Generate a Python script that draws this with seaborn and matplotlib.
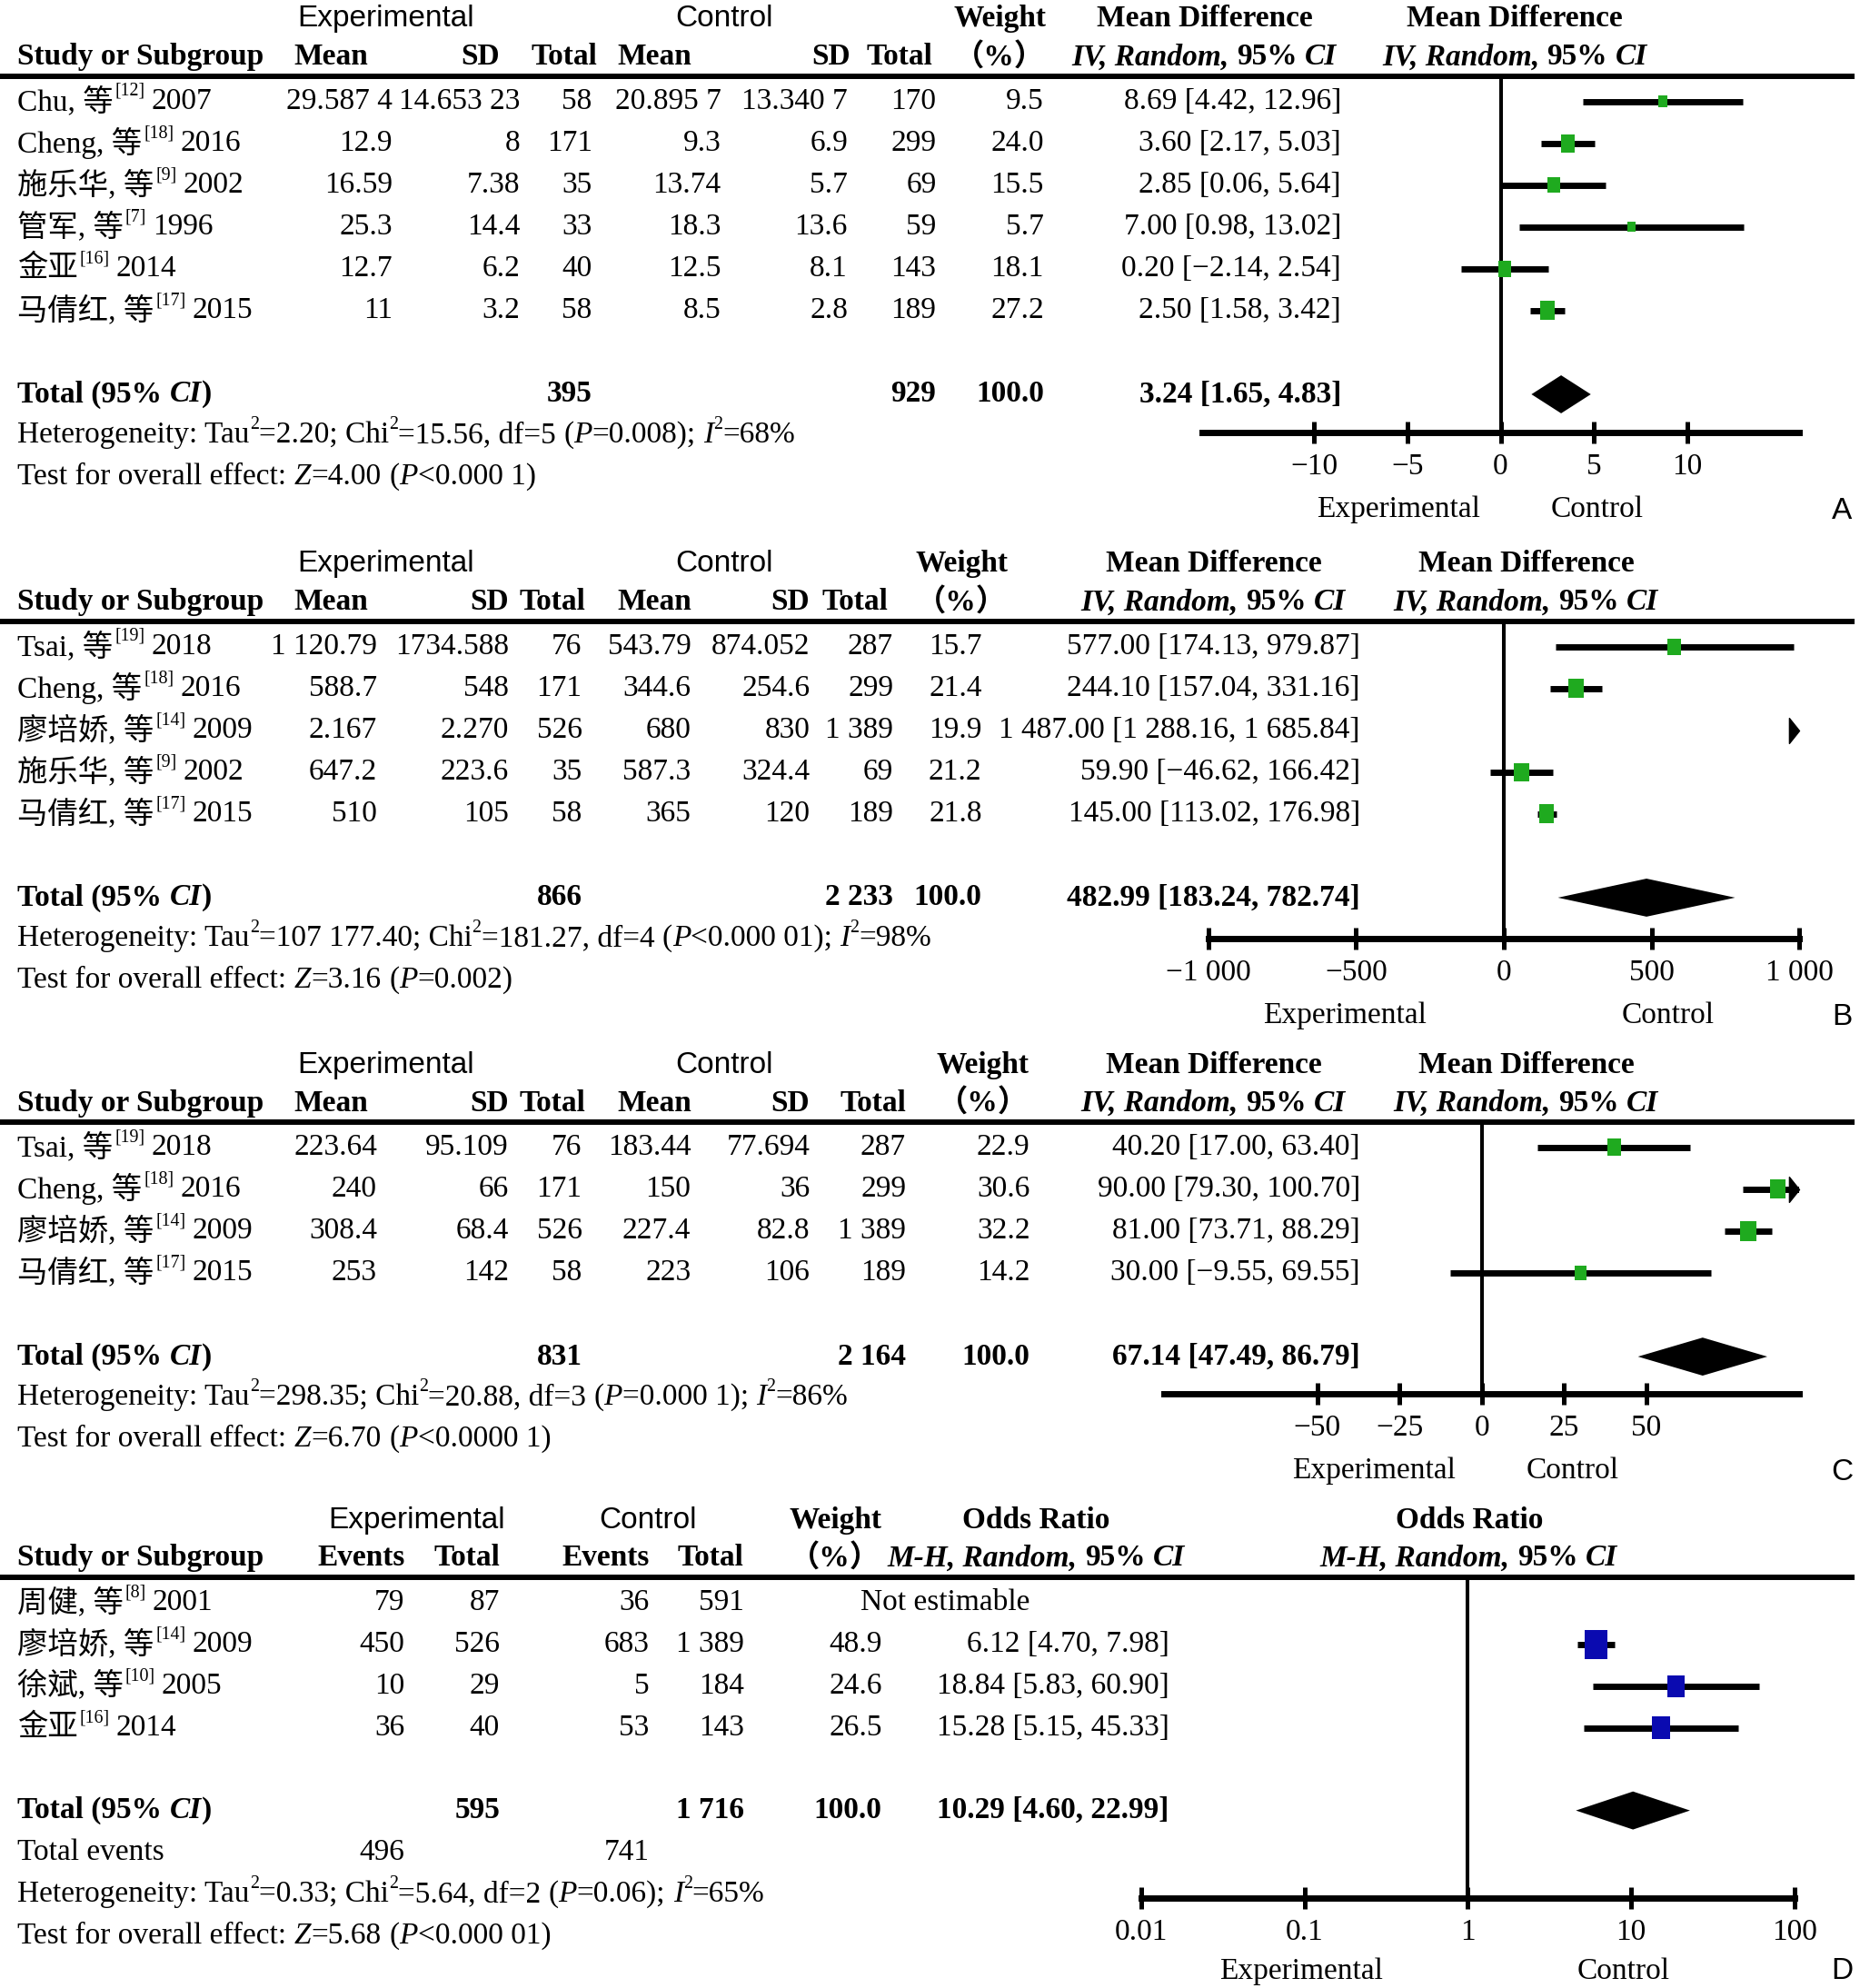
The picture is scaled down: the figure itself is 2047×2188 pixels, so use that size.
import numpy as np
import pandas as pd
import matplotlib
matplotlib.use("Agg")
import matplotlib.pyplot as plt
import seaborn as sns
from matplotlib.path import Path
from matplotlib.markers import MarkerStyle
from matplotlib.ticker import NullLocator

# ============================ DATA ============================
# ---- Panel A ----
a_study = ["Chu, 等", "Cheng, 等", "施乐华, 等", "管军, 等", "金亚", "马倩红, 等"]
a_ref = ["[12]", "[18]", "[9]", "[7]", "[16]", "[17]"]
a_year = ["2007", "2016", "2002", "1996", "2014", "2015"]
a_exp_mean = ["29.587 4", "12.9", "16.59", "25.3", "12.7", "11"]
a_exp_sd = ["14.653 23", "8", "7.38", "14.4", "6.2", "3.2"]
a_exp_n = ["58", "171", "35", "33", "40", "58"]
a_ctl_mean = ["20.895 7", "9.3", "13.74", "18.3", "12.5", "8.5"]
a_ctl_sd = ["13.340 7", "6.9", "5.7", "13.6", "8.1", "2.8"]
a_ctl_n = ["170", "299", "69", "59", "143", "189"]
a_weight = [9.5, 24.0, 15.5, 5.7, 18.1, 27.2]
a_md = [8.69, 3.60, 2.85, 7.00, 0.20, 2.50]
a_lo = [4.42, 2.17, 0.06, 0.98, -2.14, 1.58]
a_hi = [12.96, 5.03, 5.64, 13.02, 2.54, 3.42]
a_totals = ["395", "929", "100.0"]
a_pooled = [3.24, 1.65, 4.83]
a_het = ["2.20", "15.56", "5", "=0.008", "68%"]
a_test = ["4.00", "<0.000 1"]
a_ticks = [-10, -5, 0, 5, 10]
a_ticklabels = ["−10", "−5", "0", "5", "10"]

# ---- Panel B ----
b_study = ["Tsai, 等", "Cheng, 等", "廖培娇, 等", "施乐华, 等", "马倩红, 等"]
b_ref = ["[19]", "[18]", "[14]", "[9]", "[17]"]
b_year = ["2018", "2016", "2009", "2002", "2015"]
b_exp_mean = ["1 120.79", "588.7", "2.167", "647.2", "510"]
b_exp_sd = ["1734.588", "548", "2.270", "223.6", "105"]
b_exp_n = ["76", "171", "526", "35", "58"]
b_ctl_mean = ["543.79", "344.6", "680", "587.3", "365"]
b_ctl_sd = ["874.052", "254.6", "830", "324.4", "120"]
b_ctl_n = ["287", "299", "1 389", "69", "189"]
b_weight = [15.7, 21.4, 19.9, 21.2, 21.8]
b_md = [577.00, 244.10, 1487.00, 59.90, 145.00]
b_lo = [174.13, 157.04, 1288.16, -46.62, 113.02]
b_hi = [979.87, 331.16, 1685.84, 166.42, 176.98]
b_totals = ["866", "2 233", "100.0"]
b_pooled = [482.99, 183.24, 782.74]
b_het = ["107 177.40", "181.27", "4", "<0.000 01", "98%"]
b_test = ["3.16", "=0.002"]
b_ticks = [-1000, -500, 0, 500, 1000]
b_ticklabels = ["−1 000", "−500", "0", "500", "1 000"]

# ---- Panel C ----
c_study = ["Tsai, 等", "Cheng, 等", "廖培娇, 等", "马倩红, 等"]
c_ref = ["[19]", "[18]", "[14]", "[17]"]
c_year = ["2018", "2016", "2009", "2015"]
c_exp_mean = ["223.64", "240", "308.4", "253"]
c_exp_sd = ["95.109", "66", "68.4", "142"]
c_exp_n = ["76", "171", "526", "58"]
c_ctl_mean = ["183.44", "150", "227.4", "223"]
c_ctl_sd = ["77.694", "36", "82.8", "106"]
c_ctl_n = ["287", "299", "1 389", "189"]
c_weight = [22.9, 30.6, 32.2, 14.2]
c_md = [40.20, 90.00, 81.00, 30.00]
c_lo = [17.00, 79.30, 73.71, -9.55]
c_hi = [63.40, 100.70, 88.29, 69.55]
c_totals = ["831", "2 164", "100.0"]
c_pooled = [67.14, 47.49, 86.79]
c_het = ["298.35", "20.88", "3", "=0.000 1", "86%"]
c_test = ["6.70", "<0.0000 1"]
c_ticks = [-50, -25, 0, 25, 50]
c_ticklabels = ["−50", "−25", "0", "25", "50"]

# ---- Panel D ----
d_study = ["周健, 等", "廖培娇, 等", "徐斌, 等", "金亚"]
d_ref = ["[8]", "[14]", "[10]", "[16]"]
d_year = ["2001", "2009", "2005", "2014"]
d_exp_events = ["79", "450", "10", "36"]
d_exp_n = ["87", "526", "29", "40"]
d_ctl_events = ["36", "683", "5", "53"]
d_ctl_n = ["591", "1 389", "184", "143"]
d_weight = [np.nan, 48.9, 24.6, 26.5]
d_or = [np.nan, 6.12, 18.84, 15.28]
d_lo = [np.nan, 4.70, 5.83, 5.15]
d_hi = [np.nan, 7.98, 60.90, 45.33]
d_totals = ["595", "1 716", "100.0"]
d_total_events = ["496", "741"]
d_pooled = [10.29, 4.60, 22.99]
d_het = ["0.33", "5.64", "2", "=0.06", "65%"]
d_test = ["5.68", "<0.000 01"]
d_ticks = [0.01, 0.1, 1, 10, 100]
d_ticklabels = ["0.01", "0.1", "1", "10", "100"]

# ============================ STYLE ============================
sns.set_style("white")
SERIF = ["Liberation Serif", "Noto Sans CJK SC"]
SANS = ["Liberation Sans", "DejaVu Sans"]
plt.rcParams["font.family"] = SERIF
FS = 24
GREEN = "#1faa1f"
BLUE = "#0a0ab0"

W, H = 1470.0, 1568.0          # layout units (reference display units)
FIG_W, FIG_H = 2047, 2188

fig = plt.figure(figsize=(FIG_W / 100, FIG_H / 100), dpi=100)
bg = fig.add_axes([0, 0, 1, 1])
bg.set_xlim(0, W)
bg.set_ylim(H, 0)
bg.axis("off")
renderer = fig.canvas.get_renderer()


def rich(x, y, segs, ha="left", size=FS, family=None):
    family = family or SERIF
    objs = []
    for seg in segs:
        if isinstance(seg, (int, float)):
            objs.append(("gap", seg))
            continue
        txt_, kind = seg
        sup = "s" in kind
        t = bg.text(0, y - (8 if sup else 0), txt_,
                    fontsize=size * 0.6 if sup else size,
                    fontweight="bold" if "b" in kind else "normal",
                    fontstyle="italic" if "i" in kind else "normal",
                    family=family, va="center", ha="left", color="black")
        objs.append(("t", t))
    widths = []
    for k, o in objs:
        if k == "gap":
            widths.append(o)
        else:
            widths.append(o.get_window_extent(renderer).width * W / FIG_W)
    total = sum(widths)
    x0 = x if ha == "left" else (x - total if ha == "right" else x - total / 2)
    for (k, o), w in zip(objs, widths):
        if k == "t":
            o.set_x(x0)
        x0 += w


def txt(x, y, s, ha="right", bold=False, family=None, size=FS, italic=False):
    bg.text(x, y, s, ha=ha, va="center", fontsize=size,
            fontweight="bold" if bold else "normal",
            fontstyle="italic" if italic else "normal",
            family=family or SERIF, color="black")


def fmt(v):
    s = f"{abs(v):.2f}"
    ip, dp = s.split(".")
    if len(ip) > 3:
        ip = ip[:-3] + " " + ip[-3:]
    return ("−" if v < 0 else "") + ip + "." + dp


def ci_str(e, l, h):
    return f"{fmt(e)} [{fmt(l)}, {fmt(h)}]"


def het_segs(h):
    return [("Heterogeneity: Tau", "n"), ("2", "s"), (f"={h[0]}; Chi", "n"), ("2", "s"),
            (f"={h[1]}, df={h[2]}", "n"), 6, ("(", "n"), ("P", "i"), (f"{h[3]});", "n"), 6,
            ("I", "i"), ("2", "s"), (f"={h[4]}", "n")]


def test_segs(t):
    return [("Test for overall effect:", "n"), 6, ("Z", "i"), (f"={t[0]}", "n"), 6,
            ("(", "n"), ("P", "i"), (f"{t[1]})", "n")]


RECT = MarkerStyle(Path([(-0.4, -0.5), (0.4, -0.5), (0.4, 0.5), (-0.4, 0.5), (-0.4, -0.5)],
                        [Path.MOVETO, Path.LINETO, Path.LINETO, Path.LINETO, Path.CLOSEPOLY]))
ARROW = MarkerStyle(Path([(0, 0), (-0.4, 0.5), (-0.4, -0.5), (0, 0)],
                         [Path.MOVETO, Path.LINETO, Path.LINETO, Path.CLOSEPOLY]))


def forest(x0, x1, ytop, yaxis, xlim, log, ticks, ticklabels, rows_y, est, lo, hi, wts,
           color, hmax, pooled, pooled_y, null):
    ax = fig.add_axes([x0 / W, 1 - yaxis / H, (x1 - x0) / W, (yaxis - ytop) / H])
    ax.patch.set_alpha(0)
    if log:
        ax.set_xscale("log")
    ax.set_xlim(*xlim)
    ax.set_ylim(yaxis, ytop)
    for s in ["top", "left", "right"]:
        ax.spines[s].set_visible(False)
    ax.spines["bottom"].set_linewidth(5)
    ax.spines["bottom"].set_color("black")
    ax.set_yticks([])
    ax.set_xticks(ticks)
    ax.set_xticklabels(ticklabels, fontsize=FS, family=SERIF)
    ax.xaxis.set_minor_locator(NullLocator())
    ax.tick_params(axis="x", bottom=True, direction="inout", length=17, width=3.6, pad=8,
                   colors="black")
    ax.axvline(null, color="black", lw=2.9, zorder=1)
    est = np.asarray(est, float)
    lo = np.asarray(lo, float)
    hi = np.asarray(hi, float)
    wts = np.asarray(wts, float)
    rows_y = np.asarray(rows_y, float)
    xmin, xmax = xlim
    ok = ~np.isnan(est)
    # confidence intervals
    for e, l, h, yy in zip(est[ok], lo[ok], hi[ok], rows_y[ok]):
        if l < xmax and h > xmin:
            ax.hlines(yy, max(l, xmin), min(h, xmax), color="black", lw=5, zorder=2)
        if h > xmax:
            ax.plot([xmax], [yy], marker=ARROW, ms=20, color="black", clip_on=False,
                    zorder=4, lw=0)
    # weight squares
    inr = ok & (est >= xmin) & (est <= xmax)
    wmax = np.nanmax(wts)
    sizes = (hmax * (wts[inr] / wmax) ** 0.4) ** 2
    df = pd.DataFrame({"x": est[inr], "y": rows_y[inr]})
    sns.scatterplot(data=df, x="x", y="y", ax=ax, marker=RECT, s=sizes, color=color,
                    edgecolor=color, linewidth=0, legend=False, zorder=3, clip_on=False)
    ax.set_xlabel("")
    ax.set_ylabel("")
    # pooled diamond
    pe, pl, ph = pooled
    ax.fill([pl, pe, ph, pe], [pooled_y, pooled_y - 15, pooled_y, pooled_y + 15],
            color="black", lw=0, zorder=3)
    return ax


def header_line(y):
    bg.hlines(y, 0, 1466, color="black", lw=4.3)


def study_label(y, name, ref, year):
    rich(14, y, [(name, "n"), 1, (ref, "s"), 5, (year, "n")])


def total_label(y):
    rich(14, y, [("Total (95%", "b"), 6, ("CI", "bi"), (")", "b")])


def md_panel(top, study, ref, year, cols_data, cols_x, weight, est, lo, hi, totals, tot_x,
             pooled, het, test, hdr, fx, xlim, ticks, ticklabels, labx, letter, hmax, axoff):
    h2 = top + 30
    line = top + 45
    rows_y = [top + 65 + 33 * i for i in range(len(study))]
    total_y = rows_y[-1] + 66
    het_y = total_y + 32
    test_y = het_y + 33
    # headers
    txt(305, top, "Experimental", ha="center", family=SANS)
    txt(572, top, "Control", ha="center", family=SANS)
    txt(hdr["w"], top, "Weight", ha="center", bold=True)
    txt(hdr["md1"], top, "Mean Difference", ha="center", bold=True)
    txt(hdr["md2"], top, "Mean Difference", ha="center", bold=True)
    txt(14, h2, "Study or Subgroup", ha="left", bold=True)
    txt(232, h2, "Mean", ha="left", bold=True)
    txt(hdr["sd1"], h2, "SD", bold=True)
    txt(hdr["t1"], h2, "Total", bold=True)
    txt(488, h2, "Mean", ha="left", bold=True)
    txt(hdr["sd2"], h2, "SD", bold=True)
    txt(hdr["t2"], h2, "Total", bold=True)
    txt(hdr["w"], h2, "（%）", ha="center", bold=True)
    for cx in (hdr["md1"], hdr["md2"]):
        rich(cx, h2, [("IV, Random,", "bi"), 6, ("95%", "b"), 6, ("CI", "bi")], ha="center")
    header_line(line)
    # rows
    for i, y in enumerate(rows_y):
        study_label(y, study[i], ref[i], year[i])
        for col, cx in zip(cols_data, cols_x[:6]):
            txt(cx, y, col[i])
        txt(cols_x[6], y, f"{weight[i]:.1f}")
        txt(cols_x[7], y, ci_str(est[i], lo[i], hi[i]))
    total_label(total_y)
    for s, cx in zip(totals, tot_x):
        txt(cx, total_y, s, bold=True)
    txt(cols_x[7], total_y, ci_str(*pooled), bold=True)
    rich(14, het_y, het_segs(het))
    rich(14, test_y, test_segs(test))
    # forest
    yaxis = het_y + axoff
    forest(fx[0], fx[1], line, yaxis, xlim, False, ticks, ticklabels, rows_y, est, lo, hi,
           weight, GREEN, hmax, pooled, total_y, 0)
    txt(labx[0], yaxis + 61, "Experimental", ha="center")
    txt(labx[1], yaxis + 61, "Control", ha="center")
    txt(1456, yaxis + 62, letter, ha="center", family=SANS)


# ---- Panel A ----
md_panel(15, a_study, a_ref, a_year,
         [a_exp_mean, a_exp_sd, a_exp_n, a_ctl_mean, a_ctl_sd, a_ctl_n],
         [310, 411, 468, 570, 670, 740, 825, 1060], a_weight, a_md, a_lo, a_hi,
         a_totals, [468, 740, 825], a_pooled, a_het, a_test,
         dict(w=790, md1=952, md2=1197, sd1=395, t1=472, sd2=672, t2=737),
         (950, 1422), (-16, 16), a_ticks, a_ticklabels, (1105, 1262), "A", 15, -2)

# ---- Panel B ----
md_panel(445, b_study, b_ref, b_year,
         [b_exp_mean, b_exp_sd, b_exp_n, b_ctl_mean, b_ctl_sd, b_ctl_n],
         [298, 402, 460, 546, 640, 706, 776, 1075], b_weight, b_md, b_lo, b_hi,
         b_totals, [460, 706, 776], b_pooled, b_het, b_test,
         dict(w=760, md1=959, md2=1206, sd1=402, t1=463, sd2=640, t2=702),
         (955, 1422), (-1000, 1000), b_ticks, b_ticklabels, (1063, 1318), "B", 15, 0)

# ---- Panel C ----
md_panel(840, c_study, c_ref, c_year,
         [c_exp_mean, c_exp_sd, c_exp_n, c_ctl_mean, c_ctl_sd, c_ctl_n],
         [298, 402, 460, 546, 640, 716, 814, 1075], c_weight, c_md, c_lo, c_hi,
         c_totals, [460, 716, 814], c_pooled, c_het, c_test,
         dict(w=777, md1=959, md2=1206, sd1=402, t1=463, sd2=640, t2=716),
         (920, 1422), (-96.5, 96.5), c_ticks, c_ticklabels, (1086, 1243), "C", 15.5, -3)

# ---- Panel D ----
top = 1199
h2 = top + 30
line = top + 45
rows_y = [top + 65 + 33 * i for i in range(len(d_study))]
total_y = rows_y[-1] + 65
tev_y = total_y + 33
het_y = tev_y + 33
test_y = het_y + 33
txt(329, top, "Experimental", ha="center", family=SANS)
txt(512, top, "Control", ha="center", family=SANS)
txt(660, top, "Weight", ha="center", bold=True)
txt(819, top, "Odds Ratio", ha="center", bold=True)
txt(1161, top, "Odds Ratio", ha="center", bold=True)
txt(14, h2, "Study or Subgroup", ha="left", bold=True)
txt(320, h2, "Events", bold=True)
txt(395, h2, "Total", bold=True)
txt(513, h2, "Events", bold=True)
txt(588, h2, "Total", bold=True)
txt(660, h2, "（%）", ha="center", bold=True)
for cx in (819, 1161):
    rich(cx, h2, [("M-H, Random,", "bi"), 6, ("95%", "b"), 6, ("CI", "bi")], ha="center")
header_line(line)
for i, y in enumerate(rows_y):
    study_label(y, d_study[i], d_ref[i], d_year[i])
    for col, cx in zip([d_exp_events, d_exp_n, d_ctl_events, d_ctl_n], [320, 395, 513, 588]):
        txt(cx, y, col[i])
    if np.isnan(d_or[i]):
        txt(747, y, "Not estimable", ha="center")
    else:
        txt(697, y, f"{d_weight[i]:.1f}")
        txt(924, y, ci_str(d_or[i], d_lo[i], d_hi[i]))
total_label(total_y)
for s, cx in zip(d_totals, [395, 588, 697]):
    txt(cx, total_y, s, bold=True)
txt(924, total_y, ci_str(*d_pooled), bold=True)
txt(14, tev_y, "Total events", ha="left")
txt(320, tev_y, d_total_events[0])
txt(513, tev_y, d_total_events[1])
rich(14, het_y, het_segs(d_het))
rich(14, test_y, test_segs(d_test))
yaxis_d = het_y + 3
forest(902, 1418, line, yaxis_d, (0.01, 100), True, d_ticks, d_ticklabels, rows_y,
       d_or, d_lo, d_hi, d_weight, BLUE, 23, d_pooled, total_y, 1)
txt(1028, yaxis_d + 58, "Experimental", ha="center")
txt(1283, yaxis_d + 58, "Control", ha="center")
txt(1456, yaxis_d + 58, "D", ha="center", family=SANS)

fig.savefig("out.png", dpi=100)
